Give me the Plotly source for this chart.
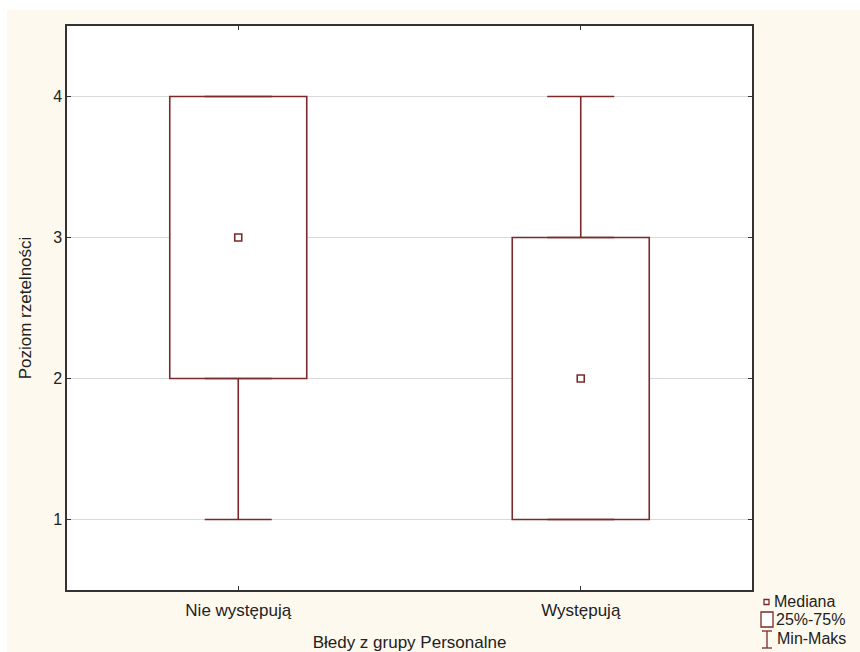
import plotly.graph_objects as go

# Summary statistics per group
categories = ["Nie występują", "Występują"]
q1_vals = [2, 1]
median_vals = [3, 2]
q3_vals = [4, 3]
min_vals = [1, 1]
max_vals = [4, 4]

legend_labels = ["Mediana", "25%-75%", "Min-Maks"]
x_title = "Błedy z grupy Personalne"
y_title = "Poziom rzetelności"
y_ticks = [1, 2, 3, 4]

BOX_COLOR = "#7a2a2a"
BG = "#fef9ee"
W, H = 860, 652
ML, MR, MT, MB = 67, 108, 26, 62
PW, PH = W - ML - MR, H - MT - MB
FONT = "Liberation Sans, Arial, sans-serif"


def px(x):
    return (x - ML) / PW


def py(y):
    return (H - MB - y) / PH


fig = go.Figure()

# interquartile boxes
fig.add_trace(go.Bar(
    x=categories,
    base=q1_vals,
    y=[b - a for a, b in zip(q1_vals, q3_vals)],
    width=0.4,
    marker=dict(color="white", line=dict(color=BOX_COLOR, width=1.6)),
    showlegend=False,
    hoverinfo="skip",
))

# upper whiskers
fig.add_trace(go.Scatter(
    x=categories, y=q3_vals, mode="markers",
    marker=dict(color="rgba(0,0,0,0)", size=1),
    error_y=dict(type="data", symmetric=False,
                 array=[m - q for m, q in zip(max_vals, q3_vals)],
                 arrayminus=[0, 0], color=BOX_COLOR, thickness=1.6, width=33.5),
    showlegend=False, hoverinfo="skip",
))

# lower whiskers
fig.add_trace(go.Scatter(
    x=categories, y=q1_vals, mode="markers",
    marker=dict(color="rgba(0,0,0,0)", size=1),
    error_y=dict(type="data", symmetric=False,
                 array=[0, 0],
                 arrayminus=[q - m for m, q in zip(min_vals, q1_vals)],
                 color=BOX_COLOR, thickness=1.6, width=33.5),
    showlegend=False, hoverinfo="skip",
))

# medians
fig.add_trace(go.Scatter(
    x=categories, y=median_vals, mode="markers",
    marker=dict(symbol="square", size=7, color="white",
                line=dict(color=BOX_COLOR, width=1.6)),
    showlegend=False, hoverinfo="skip",
))

shapes = [
    # white strips at the top and left edges of the page
    dict(type="rect", xref="paper", yref="paper", x0=px(0), x1=px(W), y0=py(10), y1=py(0),
         fillcolor="white", line=dict(width=0), layer="below"),
    dict(type="rect", xref="paper", yref="paper", x0=px(0), x1=px(7), y0=py(H), y1=py(0),
         fillcolor="white", line=dict(width=0), layer="below"),
    # legend glyphs
    dict(type="rect", xref="paper", yref="paper", x0=px(764), x1=px(769), y0=py(604.5), y1=py(599.5),
         fillcolor="white", line=dict(color=BOX_COLOR, width=1.3)),
    dict(type="rect", xref="paper", yref="paper", x0=px(761), x1=px(773), y0=py(627), y1=py(612),
         fillcolor="white", line=dict(color=BOX_COLOR, width=1.3)),
    dict(type="line", xref="paper", yref="paper", x0=px(767), x1=px(767), y0=py(648), y1=py(631),
         line=dict(color=BOX_COLOR, width=1.3)),
    dict(type="line", xref="paper", yref="paper", x0=px(762), x1=px(772), y0=py(631), y1=py(631),
         line=dict(color=BOX_COLOR, width=1.3)),
    dict(type="line", xref="paper", yref="paper", x0=px(762), x1=px(772), y0=py(648), y1=py(648),
         line=dict(color=BOX_COLOR, width=1.3)),
]

annotations = []
for label, xx, yy in zip(legend_labels, [772, 774, 775], [601, 619, 638]):
    annotations.append(dict(
        text=label, xref="paper", yref="paper", x=px(xx), y=py(yy),
        xanchor="left", yanchor="middle", showarrow=False,
        font=dict(family=FONT, size=16, color="#222"),
    ))

fig.update_layout(
    width=W, height=H,
    margin=dict(l=ML, r=MR, t=MT, b=MB, pad=0, autoexpand=False),
    paper_bgcolor=BG, plot_bgcolor="white",
    font=dict(family=FONT, color="#222"),
    shapes=shapes, annotations=annotations,
    showlegend=False,
)

fig.update_xaxes(
    type="category", range=[-0.5, 1.5], automargin=False,
    showgrid=False, showline=True, linecolor="#333", linewidth=1.5,
    mirror="ticks", ticks="inside", ticklen=4, tickcolor="#333",
    ticklabelstandoff=4,
    tickfont=dict(family=FONT, size=17, color="#222"),
    title=dict(text=x_title, font=dict(family=FONT, size=17, color="#222"), standoff=17),
)
fig.update_yaxes(
    range=[0.5, 4.5], tickvals=y_ticks, automargin=False,
    showgrid=True, gridcolor="#d9d9d9", gridwidth=1, zeroline=False,
    showline=True, linecolor="#333", linewidth=1.5,
    mirror="ticks", ticks="inside", ticklen=4, tickcolor="#333",
    tickfont=dict(family=FONT, size=16, color="#222"),
    title=dict(text=y_title, font=dict(family=FONT, size=17, color="#222"), standoff=17),
)

fig.write_html("out.html")
